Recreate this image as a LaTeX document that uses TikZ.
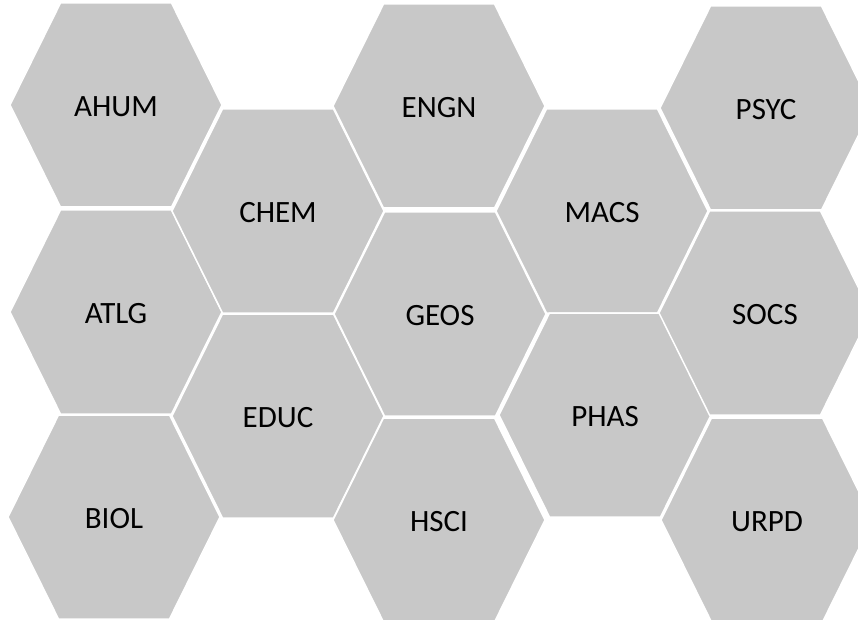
\documentclass[tikz,border=0pt]{standalone}
\usepackage{fontspec}
\setmainfont{Carlito}
\usepackage{tikz}
\usetikzlibrary{positioning}
\definecolor{hexgray}{RGB}{200,200,200}

\begin{document}
\begin{tikzpicture}[x=1pt,y=-1pt]
        \tikzstyle{hexblock}=[fill=hexgray, draw=white, line width=1.5pt, line join=miter]
        \tikzstyle{hexlabel}=[font=\fontsize{31}{36}\selectfont, inner sep=0pt, text=black]
        \useasboundingbox (0,0) rectangle (858,620);
        \clip (0,0) rectangle (858,620);
        \foreach \name/\x/\y in {AHUM/116/105, ATLG/116/312, BIOL/114/517,
                                 CHEM/278/211, EDUC/278/416,
                                 ENGN/439/106, GEOS/440/314, HSCI/439/520,
                                 MACS/602/211, PHAS/605/415,
                                 PSYC/766/108, SOCS/765/313, URPD/767/520} {
          \filldraw[hexblock] (\x-106,\y) -- (\x-55.5,\y-102) -- (\x+55.5,\y-102)
                -- (\x+106,\y) -- (\x+55.5,\y+102) -- (\x-55.5,\y+102) -- cycle;
          \node[hexlabel] (\name) at (\x,\y+2) {\name};
        }
      \end{tikzpicture}
\end{document}
